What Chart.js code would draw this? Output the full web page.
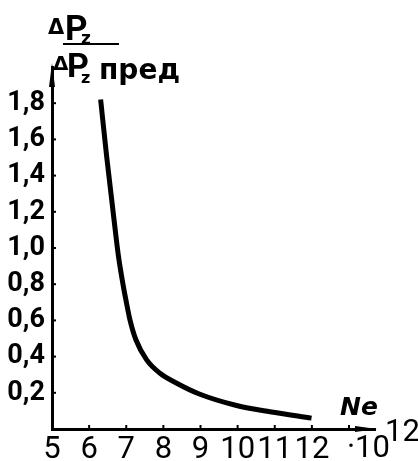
<!DOCTYPE html>
<html><head><meta charset="utf-8">
<script src="https://cdn.jsdelivr.net/npm/chart.js@4.4.1/dist/chart.umd.min.js"></script>
<style>html,body{margin:0;padding:0;background:#fff}canvas{display:block}</style>
</head><body>
<canvas id="c" width="418" height="461"></canvas>
<script>
// Data
const neValues    = [6.31, 6.47, 6.68, 6.79, 6.92, 6.99, 7.10, 7.26, 7.55, 7.91, 8.36, 8.95, 9.97, 10.87, 11.99];
const ratioValues = [1.82, 1.51, 1.14, 0.955, 0.79, 0.714, 0.603, 0.493, 0.382, 0.308, 0.253, 0.195, 0.13, 0.095, 0.06];
const xTickValues = [5, 6, 7, 8, 9, 10, 11, 12];
const xTickLabels = ['5', '6', '7', '8', '9', '10', '11', '12'];
const yTickValues = [0.2, 0.4, 0.6, 0.8, 1.0, 1.2, 1.4, 1.6, 1.8];
const yTickLabels = ['0,2', '0,4', '0,6', '0,8', '1,0', '1,2', '1,4', '1,6', '1,8'];
const xMarkValues = [6, 7, 8, 9, 10, 11, 12, 13];

const INK = '#000';
const FONT = 'Roboto, "DejaVu Sans Condensed", sans-serif';

function labelFor(values, labels, v) {
  for (let i = 0; i < values.length; i++) if (Math.abs(values[i] - v) < 1e-6) return labels[i];
  return '';
}

const decor = {
  id: 'decor',
  afterDraw(chart) {
    const ctx = chart.ctx;
    const xs = chart.scales.x, ys = chart.scales.y;
    const x0 = xs.getPixelForValue(5);
    const y0 = ys.getPixelForValue(0);
    ctx.save();
    ctx.fillStyle = INK; ctx.strokeStyle = INK;
    // y arrow
    const yTop = ys.getPixelForValue(2.0);
    ctx.beginPath();
    ctx.moveTo(x0 - 3, yTop + 20); ctx.lineTo(x0, yTop - 4); ctx.lineTo(x0 + 3, yTop + 20); ctx.closePath(); ctx.fill();
    // x arrow
    const xRight = xs.getPixelForValue(xs.max);
    ctx.beginPath();
    ctx.moveTo(xRight - 20, y0 - 3); ctx.lineTo(xRight + 2, y0); ctx.lineTo(xRight - 20, y0 + 3); ctx.closePath(); ctx.fill();
    // tick marks
    ctx.lineWidth = 2;
    xMarkValues.forEach(v => {
      const px = xs.getPixelForValue(v);
      ctx.beginPath(); ctx.moveTo(px, y0); ctx.lineTo(px, y0 - 4); ctx.stroke();
    });
    yTickValues.forEach(v => {
      const py = ys.getPixelForValue(v);
      ctx.beginPath(); ctx.moveTo(x0, py); ctx.lineTo(x0 + 4, py); ctx.stroke();
    });
    // title fraction
    ctx.textBaseline = 'alphabetic'; ctx.textAlign = 'left';
    ctx.font = 'bold 21px "DejaVu Sans"'; ctx.fillText('Δ', 48, 34);
    ctx.font = 'bold 35px ' + FONT; ctx.fillText('P', 65, 40);
    ctx.font = 'bold 17px "DejaVu Sans"'; ctx.fillText('z', 81, 44);
    ctx.fillRect(63, 43, 56, 2);
    ctx.font = 'bold 20px "DejaVu Sans"'; ctx.fillText('Δ', 53, 70);
    ctx.font = 'bold 34px ' + FONT; ctx.fillText('P', 67, 77);
    ctx.font = 'bold 16px "DejaVu Sans"'; ctx.fillText('z', 81, 83);
    ctx.font = 'bold 28px "DejaVu Sans"'; ctx.fillText('пред', 99, 79);
    // axis title and multiplier
    ctx.font = 'bold italic 25px "DejaVu Sans"'; ctx.fillText('Ne', 340, 415);
    ctx.font = '31px ' + FONT; ctx.fillText('·10', 347, 457);
    ctx.fillText('12', 385, 441);
    ctx.restore();
  }
};

new Chart(document.getElementById('c'), {
  type: 'line',
  data: {
    datasets: [{
      data: neValues.map((x, i) => ({ x: x, y: ratioValues[i] })),
      borderColor: INK,
      borderWidth: 5,
      pointRadius: 0,
      cubicInterpolationMode: 'monotone',
      fill: false
    }]
  },
  options: {
    responsive: false,
    animation: false,
    layout: { padding: { top: 67, right: 43, left: 0, bottom: 0 } },
    plugins: { legend: { display: false }, tooltip: { enabled: false } },
    scales: {
      x: {
        type: 'linear', min: 5, max: 13.7,
        afterFit(s) { s.height = 32; },
        afterBuildTicks(s) { s.ticks = xTickValues.map(v => ({ value: v })); },
        grid: { display: false, drawTicks: false },
        border: { display: true, color: INK, width: 3 },
        ticks: {
          autoSkip: false, maxRotation: 0, padding: 3, color: INK,
          font: { family: FONT, size: 31 },
          callback: v => labelFor(xTickValues, xTickLabels, v)
        }
      },
      y: {
        type: 'linear', min: 0, max: 2.0,
        afterFit(s) { s.width = 52; },
        afterBuildTicks(s) { s.ticks = yTickValues.map(v => ({ value: v })); },
        grid: { display: false, drawTicks: false },
        border: { display: true, color: INK, width: 3 },
        ticks: {
          autoSkip: false, padding: 7, color: INK,
          font: { family: FONT, size: 27, weight: 'bold' },
          callback: v => labelFor(yTickValues, yTickLabels, v)
        }
      }
    }
  },
  plugins: [decor]
});
</script>
</body></html>
